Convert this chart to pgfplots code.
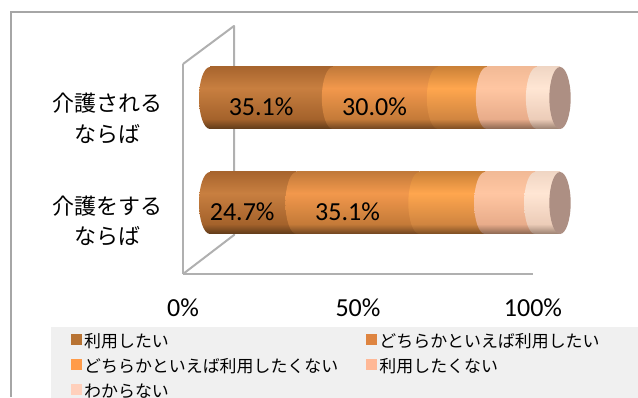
\documentclass[border=0pt]{standalone}
\usepackage{fontspec}
\usepackage{pgfplots}
\pgfplotsset{compat=1.18}
\setmainfont{Carlito}
\newfontfamily\jp{Noto Sans CJK JP}

% Flat swatch colours
\definecolor{swA}{HTML}{B87333}
\definecolor{swB}{HTML}{DE8440}
\definecolor{swC}{HTML}{FF9B49}
\definecolor{swD}{HTML}{FFB896}
\definecolor{swE}{HTML}{FFD0BC}
\definecolor{wall}{HTML}{B0B0B0}
\definecolor{frame}{HTML}{A6A6A6}
\definecolor{legbg}{HTML}{F0F0F0}
\definecolor{endcap}{HTML}{AD8F83}

% Cylinder shading: name, bottom edge, lower body, highlight, top edge
\newcommand{\cyl}[5]{%
  \definecolor{#1a}{HTML}{#2}\definecolor{#1b}{HTML}{#3}%
  \definecolor{#1c}{HTML}{#4}\definecolor{#1d}{HTML}{#5}%
  \pgfdeclareverticalshading{#1}{100bp}{%
    color(0bp)=(#1a); color(25bp)=(#1a); color(33bp)=(#1b);
    color(58bp)=(#1c); color(75bp)=(#1d); color(100bp)=(#1d)}%
  \pgfdeclareplotmark{#1}{%
    \pgfpathellipse{\pgfpointorigin}{\pgfqpoint{8.25pt}{0pt}}{\pgfqpoint{0pt}{23.25pt}}%
    \pgfshadepath{#1}{0}\pgfusepath{discard}}%
}
\cyl{cylA}{5E3A19}{A4622B}{C87F40}{A8652E}
\cyl{cylB}{6E4420}{C47A38}{F2984C}{C27A3A}
\cyl{cylC}{7A4C22}{D08540}{FFA64E}{CC8238}
\cyl{cylD}{8A6650}{E8AC8A}{FFC6A2}{F2BA96}
\cyl{cylE}{9A8070}{ECCCB8}{FFE6D4}{F0D6C4}
\pgfdeclareplotmark{capEnd}{%
  \pgfpathellipse{\pgfpointorigin}{\pgfqpoint{8pt}{0pt}}{\pgfqpoint{0pt}{23.25pt}}%
  \pgfusepathqfill}

\newcommand{\lgd}[2]{\makebox[#1][l]{\rule[-5.2pt]{0pt}{18.4pt}\fontsize{12.7}{15}\jp #2}}

% Common frame for the layers that use pixel-aligned data coordinates
\pgfplotsset{barlayer/.style={
  at={(0pt,0pt)}, anchor=south west,
  scale only axis, width=478.5pt, height=297.75pt,
  xmin=-60, xmax=122.2857, ymin=-1.8476, ymax=1.9333,
  hide axis,
}}

\begin{document}
\begin{tikzpicture}
\path[use as bounding box] (0,0) rectangle (478.5pt,297.75pt);

% Outer chart frame
\begin{scope}[x=0.75pt,y=-0.75pt,yshift=297.75pt]
  \draw[frame,line width=1.5pt] (11,397) -- (11,12) -- (638,12);
\end{scope}

% Walls, category labels, percentage scale and legend
\begin{axis}[
  at={(137.25pt,92.25pt)}, anchor=south west,
  scale only axis, width=262.5pt, height=157.5pt,
  xmin=0, xmax=100, ymin=0, ymax=2,
  axis x line=bottom, axis y line=left,
  axis line style={-, draw=wall, line width=1.5pt},
  major tick length=0pt,
  xtick={0,50,100}, xticklabels={0\%,50\%,100\%},
  xticklabel style={anchor=center, yshift=-25.5pt, font=\fontsize{19.5}{22}\selectfont},
  ytick={0.505,1.48},
  yticklabels={{介護をする\\ならば},{介護される\\ならば}},
  yticklabel style={anchor=center, xshift=-56.25pt, align=center,
    font=\fontsize{16.5}{23}\selectfont\jp},
  legend columns=2,
  legend cell align=left,
  legend style={at={(-0.377,-0.2524)}, anchor=north west, draw=none, fill=legbg,
    inner sep=0pt, outer sep=0pt, row sep=0pt},
  legend image code/.code={\path (0pt,0pt); \fill[#1] (15pt,-3.75pt) rectangle (22.5pt,3.75pt);},
]
\addlegendimage{swA}\addlegendentry{\lgd{194.5pt}{利用したい}}
\addlegendimage{swB}\addlegendentry{\lgd{209pt}{どちらかといえば利用したい}}
\addlegendimage{swC}\addlegendentry{\lgd{194.5pt}{どちらかといえば利用したくない}}
\addlegendimage{swD}\addlegendentry{\lgd{209pt}{利用したくない}}
\addlegendimage{swE}\addlegendentry{\lgd{194.5pt}{わからない}}
\end{axis}

% Back wall and floor edges
\begin{scope}[x=0.75pt,y=-0.75pt,yshift=297.75pt]
  \draw[wall,line width=1.5pt,line join=round]
    (183,274) -- (234,235) -- (234,26) -- (183,64);
\end{scope}

% Cylinder bodies, one axis per row so that each bar carries its own gradient
\begin{axis}[barlayer, xbar stacked, bar width=46.5pt]
\addplot[draw=none, shading=cylA] coordinates {(24.7,0)};
\addplot[draw=none, shading=cylB] coordinates {(35.1,0)};
\addplot[draw=none, shading=cylC] coordinates {(18.8,0)};
\addplot[draw=none, shading=cylD] coordinates {(14.3,0)};
\addplot[draw=none, shading=cylE] coordinates {(7.1,0)};
\end{axis}
\begin{axis}[barlayer, xbar stacked, bar width=46.5pt]
\addplot[draw=none, shading=cylA] coordinates {(35.1,1)};
\addplot[draw=none, shading=cylB] coordinates {(30.0,1)};
\addplot[draw=none, shading=cylC] coordinates {(14.0,1)};
\addplot[draw=none, shading=cylD] coordinates {(14.3,1)};
\addplot[draw=none, shading=cylE] coordinates {(6.6,1)};
\end{axis}

% Rounded ends of the segments at their cumulative positions
\begin{axis}[barlayer, clip=false]
\addplot[only marks, mark=cylA] coordinates {(0,0) (0,1)};
\addplot[only marks, mark=cylB] coordinates {(24.7,0) (35.1,1)};
\addplot[only marks, mark=cylC] coordinates {(59.8,0) (65.1,1)};
\addplot[only marks, mark=cylD] coordinates {(78.6,0) (79.1,1)};
\addplot[only marks, mark=cylE] coordinates {(92.9,0) (93.4,1)};
\addplot[only marks, mark=capEnd, endcap] coordinates {(100,0) (100,1)};
\end{axis}

% Value labels
\begin{axis}[barlayer, clip=false]
\addplot[draw=none, forget plot] coordinates {(0,0)};
\node[font=\fontsize{19.5}{22}\selectfont] at (axis cs:14.6,0.914) {35.1\%};
\node[font=\fontsize{19.5}{22}\selectfont] at (axis cs:47.0,0.914) {30.0\%};
\node[font=\fontsize{19.5}{22}\selectfont] at (axis cs:9.2,-0.086) {24.7\%};
\node[font=\fontsize{19.5}{22}\selectfont] at (axis cs:39.3,-0.086) {35.1\%};
\end{axis}
\end{tikzpicture}
\end{document}
